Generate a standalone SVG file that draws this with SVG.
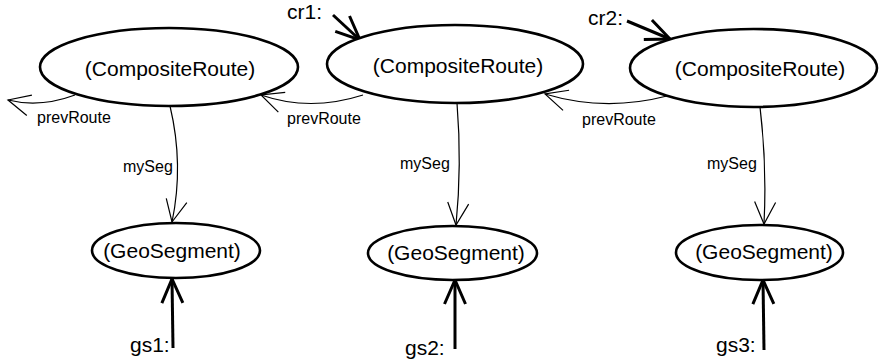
<svg xmlns="http://www.w3.org/2000/svg" width="879" height="362" viewBox="0 0 879 362">
<style>
.node{fill:#fff;stroke:#000;stroke-width:2.6}
.big{font-family:"Liberation Sans",Arial,sans-serif;font-size:21px;fill:#000}
.lbl{font-family:"Liberation Sans",Arial,sans-serif;font-size:16px;fill:#000}
.thin{fill:none;stroke:#000;stroke-width:1.2;marker-end:url(#headThin)}
.thick{fill:none;stroke:#000;stroke-width:3;marker-end:url(#headThick)}
</style>
<defs>
<marker id="headThin" markerUnits="userSpaceOnUse" viewBox="-25 -13 27 26" refX="0" refY="0" markerWidth="27" markerHeight="26" orient="auto" overflow="visible">
<path d="M -22 -10.5 L 0 0 L -22 10.5" fill="none" stroke="#000" stroke-width="1.2"/>
</marker>
<marker id="headThick" markerUnits="userSpaceOnUse" viewBox="-27 -13 29 26" refX="0" refY="0" markerWidth="29" markerHeight="26" orient="auto" overflow="visible">
<path d="M -24 -10.5 L 0 0 L -24 10.5" fill="none" stroke="#000" stroke-width="3"/>
</marker>
</defs>
<rect width="879" height="362" fill="#fff"/>
<g id="connectors">
<path class="thin" d="M 75 95 Q 40 108 8 100"/>
<path class="thin" d="M 363 95 Q 310 112 261 95"/>
<path class="thin" d="M 667 96 Q 605 112 545 94"/>
<path class="thin" d="M 170 106 Q 184 165 172 222"/>
<path class="thin" d="M 457 103 Q 462 165 456 225"/>
<path class="thin" d="M 760 107 Q 767 165 764 224"/>
<path class="thick" d="M 173 348 L 172 279"/>
<path class="thick" d="M 455 349 L 455 280"/>
<path class="thick" d="M 764 350 L 763 280"/>
<path class="thick" d="M 333 15 L 360 40"/>
<path class="thick" d="M 627 21 L 670 39"/>
<text class="lbl" x="37" y="123">prevRoute</text>
<text class="lbl" x="287" y="124">prevRoute</text>
<text class="lbl" x="582" y="125">prevRoute</text>
<text class="lbl" x="123" y="172">mySeg</text>
<text class="lbl" x="400" y="169">mySeg</text>
<text class="lbl" x="707" y="169">mySeg</text>
</g>
<g id="cr0">
<ellipse class="node" cx="169" cy="67" rx="129" ry="39"/>
<text class="big" x="170" y="75.5" text-anchor="middle">(CompositeRoute)</text>
</g>
<g id="cr1">
<ellipse class="node" cx="455" cy="64" rx="128" ry="39"/>
<text class="big" x="458" y="72.5" text-anchor="middle">(CompositeRoute)</text>
</g>
<g id="cr2">
<ellipse class="node" cx="753.5" cy="68" rx="123.5" ry="39"/>
<text class="big" x="760" y="75.5" text-anchor="middle">(CompositeRoute)</text>
</g>
<g id="gs1">
<ellipse class="node" cx="176" cy="250.5" rx="84" ry="27.5"/>
<text class="big" x="172" y="257.5" text-anchor="middle">(GeoSegment)</text>
</g>
<g id="gs2">
<ellipse class="node" cx="452.5" cy="253" rx="84.5" ry="27"/>
<text class="big" x="456" y="259.5" text-anchor="middle">(GeoSegment)</text>
</g>
<g id="gs3">
<ellipse class="node" cx="759.5" cy="252.5" rx="83.5" ry="27.5"/>
<text class="big" x="764" y="258.5" text-anchor="middle">(GeoSegment)</text>
</g>
<g id="refs">
<text class="big" x="287" y="19">cr1:</text>
<text class="big" x="588" y="25">cr2:</text>
<text class="big" x="130" y="351.5">gs1:</text>
<text class="big" x="405" y="355">gs2:</text>
<text class="big" x="716" y="352">gs3:</text>
</g>
</svg>
